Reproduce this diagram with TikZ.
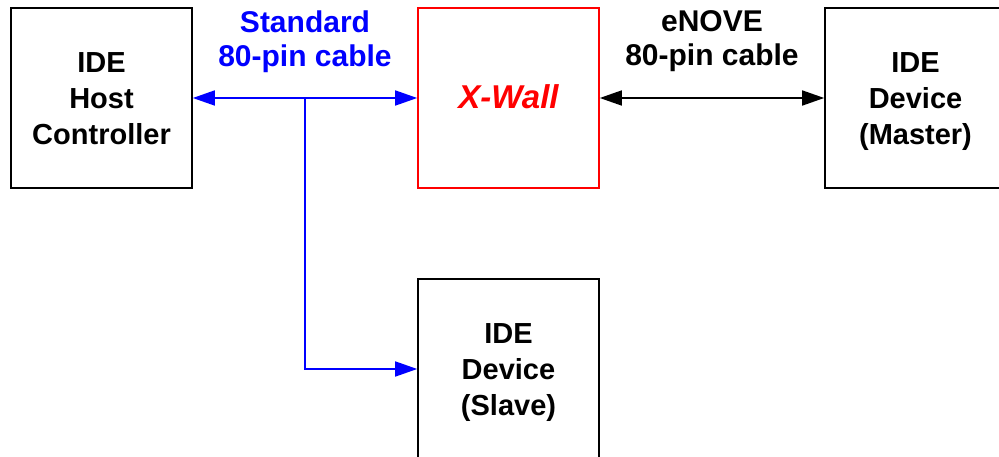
\documentclass[tikz,border=0pt]{standalone}
\usepackage{fontspec}
\setmainfont{Liberation Sans}
\usetikzlibrary{arrows.meta}

\begin{document}
\begin{tikzpicture}[x=1pt,y=-1pt,
  box/.style={draw,line width=1.6pt,minimum width=181pt,minimum height=180pt,inner sep=0pt,align=center,text height=93pt,text depth=0pt,font=\bfseries\fontsize{29}{36}\selectfont},
  lbl/.style={align=center,font=\bfseries\fontsize{30}{34}\selectfont},
  >={Triangle[length=22pt,width=15pt]}]
\useasboundingbox (0,0) rectangle (999,457);
\node[box] (host) at (101.5,98){IDE\\Host\\Controller};
\node[box,draw=red,text=red,text height=22pt,text depth=0pt,font=\bfseries\itshape\fontsize{33}{36}\selectfont] (xwall) at (508.5,98){X-Wall};
\node[box] (master) at (915.5,98){IDE\\Device\\(Master)};
\node[box] (slave) at (508.5,369){IDE\\Device\\(Slave)};
\node[lbl,text=blue] (std) at (305,41.5){Standard\\80-pin cable};
\node[lbl] (enove) at (712,41.5){eNOVE\\80-pin cable};
\coordinate (tap) at (305,98);
\draw [blue,line width=1.6pt,<->](host) -- (xwall);
\draw [blue,line width=1.6pt,->](tap) |- (slave);
\draw [line width=1.6pt,<->](xwall) -- (master);
\end{tikzpicture}
\end{document}
